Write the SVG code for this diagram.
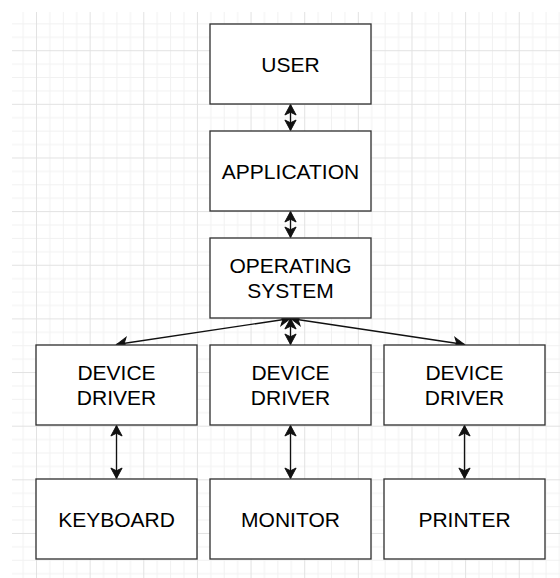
<svg xmlns="http://www.w3.org/2000/svg" width="560" height="578" viewBox="0 0 560 578">
  <defs>
    <pattern id="grid" patternUnits="userSpaceOnUse" x="36" y="50.2" width="53.64" height="53.64">
      <rect x="13.41" y="0" width="1" height="53.64" fill="#f1f1f1"/>
      <rect x="26.82" y="0" width="1" height="53.64" fill="#f1f1f1"/>
      <rect x="40.23" y="0" width="1" height="53.64" fill="#f1f1f1"/>
      <rect x="0" y="13.41" width="53.64" height="1" fill="#f1f1f1"/>
      <rect x="0" y="26.82" width="53.64" height="1" fill="#f1f1f1"/>
      <rect x="0" y="40.23" width="53.64" height="1" fill="#f1f1f1"/>
      <rect x="0" y="0" width="1" height="53.64" fill="#e2e2e2"/>
      <rect x="0" y="0" width="53.64" height="1" fill="#e2e2e2"/>
    </pattern>
    <marker id="arr" markerUnits="userSpaceOnUse" markerWidth="16" markerHeight="16" viewBox="-1 -8 14 16" refX="10.5" refY="0" orient="auto-start-reverse">
      <path d="M0,-5.6 L10.5,0 L0,5.6 L2.8,0 Z" fill="#111" stroke="#111" stroke-width="1" stroke-linejoin="miter"/>
    </marker>
    <style>
      .box { fill: #ffffff; stroke: #333333; stroke-width: 1.34; }
      .lbl { font-family: "Liberation Sans", Arial, Helvetica, sans-serif; font-size: 21px; fill: #000000; text-anchor: middle; }
      .edge { fill: none; stroke: #111111; stroke-width: 1.34; marker-start: url(#arr); marker-end: url(#arr); }
    </style>
  </defs>

  <rect x="0" y="0" width="560" height="578" fill="#ffffff"/>
  <rect x="12" y="12" width="548" height="566" fill="url(#grid)"/>

  <g id="connectors">
    <line class="edge" x1="290.5" y1="104.5" x2="290.5" y2="130.5"/>
    <line class="edge" x1="290.5" y1="211.5" x2="290.5" y2="237.5"/>
    <line class="edge" x1="290.5" y1="318.5" x2="290.5" y2="344.5"/>
    <line class="edge" x1="290.5" y1="318.5" x2="116.5" y2="344.5"/>
    <line class="edge" x1="290.5" y1="318.5" x2="464.5" y2="344.5"/>
    <line class="edge" x1="116.5" y1="425.5" x2="116.5" y2="478.5"/>
    <line class="edge" x1="290.5" y1="425.5" x2="290.5" y2="478.5"/>
    <line class="edge" x1="464.5" y1="425.5" x2="464.5" y2="478.5"/>
  </g>

  <g id="user">
    <rect class="box" x="210" y="24" width="161" height="80"/>
    <text class="lbl" x="290.5" y="71.6">USER</text>
  </g>
  <g id="application">
    <rect class="box" x="210" y="131" width="161" height="80"/>
    <text class="lbl" x="290.5" y="178.6">APPLICATION</text>
  </g>
  <g id="operating-system">
    <rect class="box" x="210" y="238" width="161" height="80"/>
    <text class="lbl" x="290.5" y="272.7">OPERATING</text>
    <text class="lbl" x="290.5" y="298.3">SYSTEM</text>
  </g>
  <g id="device-driver-1">
    <rect class="box" x="36" y="345" width="161" height="80"/>
    <text class="lbl" x="116.5" y="379.6">DEVICE</text>
    <text class="lbl" x="116.5" y="405.3">DRIVER</text>
  </g>
  <g id="device-driver-2">
    <rect class="box" x="210" y="345" width="161" height="80"/>
    <text class="lbl" x="290.5" y="379.6">DEVICE</text>
    <text class="lbl" x="290.5" y="405.3">DRIVER</text>
  </g>
  <g id="device-driver-3">
    <rect class="box" x="384" y="345" width="161" height="80"/>
    <text class="lbl" x="464.5" y="379.6">DEVICE</text>
    <text class="lbl" x="464.5" y="405.3">DRIVER</text>
  </g>
  <g id="keyboard">
    <rect class="box" x="36" y="479" width="161" height="80"/>
    <text class="lbl" x="116.5" y="526.6">KEYBOARD</text>
  </g>
  <g id="monitor">
    <rect class="box" x="210" y="479" width="161" height="80"/>
    <text class="lbl" x="290.5" y="526.6">MONITOR</text>
  </g>
  <g id="printer">
    <rect class="box" x="384" y="479" width="161" height="80"/>
    <text class="lbl" x="464.5" y="526.6">PRINTER</text>
  </g>
</svg>
